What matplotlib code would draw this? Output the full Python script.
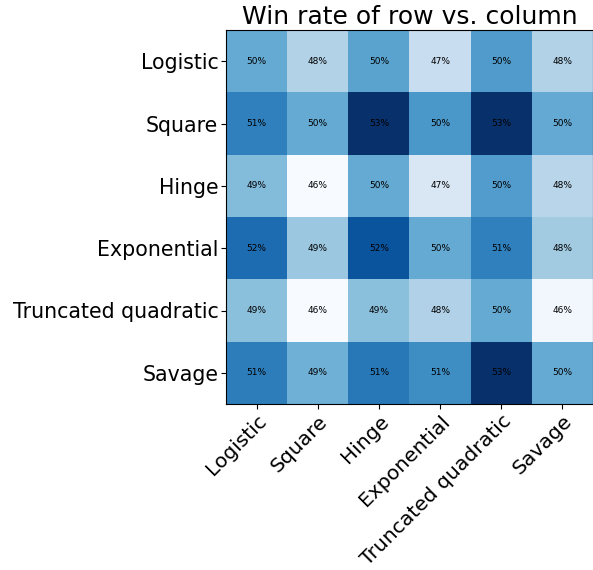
import numpy as np
import matplotlib
matplotlib.use("Agg")
import matplotlib.pyplot as plt

losses = ["Logistic", "Square", "Hinge", "Exponential", "Truncated quadratic", "Savage"]

# win rate of row loss vs column loss
win_logistic = [0.4965, 0.4800, 0.4990, 0.4740, 0.5013, 0.4800]
win_square = [0.5100, 0.4965, 0.5345, 0.5030, 0.5340, 0.4966]
win_hinge = [0.4903, 0.4555, 0.4965, 0.4674, 0.5010, 0.4784]
win_exponential = [0.5160, 0.4855, 0.5234, 0.4965, 0.5100, 0.4839]
win_truncquad = [0.4887, 0.4558, 0.4887, 0.4808, 0.4965, 0.4579]
win_savage = [0.5108, 0.4942, 0.5124, 0.5060, 0.5340, 0.4965]

data = np.array([win_logistic, win_square, win_hinge,
                 win_exponential, win_truncquad, win_savage])

fig = plt.figure(figsize=(5.93, 5.70), dpi=100)
ax = fig.add_axes([226/593, (570-404)/570, 367/593, 374/570])
ax.imshow(data, cmap="Blues", aspect="auto")

ax.set_xticks(np.arange(len(losses)))
ax.set_yticks(np.arange(len(losses)))
ax.set_xticklabels(losses, fontsize=14.6, rotation=45, ha="right", rotation_mode="anchor")
ax.set_yticklabels(losses, fontsize=14.8)
ax.tick_params(axis="y", pad=2)
ax.tick_params(axis="x", pad=2)

for i in range(len(losses)):
	for j in range(len(losses)):
		ax.text(j, i, "{:.0%}".format(data[i, j]), ha="center", va="center", fontsize=6.5)

ax.set_title("Win rate of row vs. column", fontsize=18, pad=4)

fig.savefig("out.png", dpi=100)
